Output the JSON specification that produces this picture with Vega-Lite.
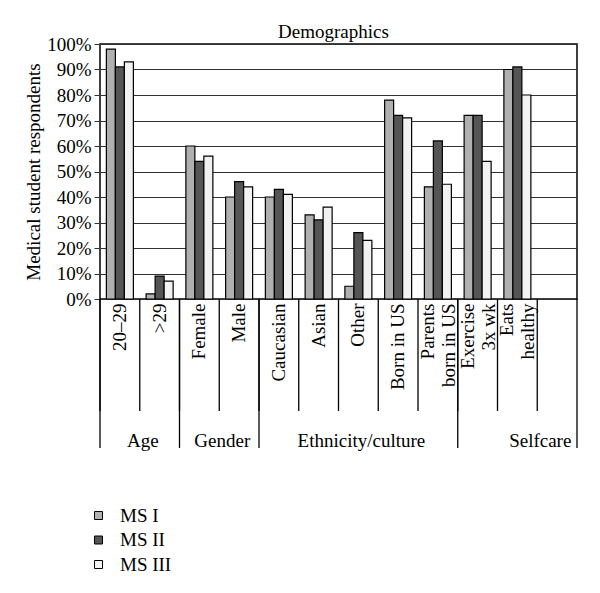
{
  "$schema": "https://vega.github.io/schema/vega-lite/v6.json",
  "autosize": {"type": "none"},
  "padding": {"left": 100, "top": 44, "right": 23, "bottom": 294},
  "width": 477,
  "height": 255,
  "title": {"text": "Demographics", "fontSize": 19, "fontWeight": "normal", "color": "black", "anchor": "middle", "offset": -7, "dx": -5},
  "config": {
    "font": "Liberation Serif",
    "view": {"stroke": "black", "strokeWidth": 1.5},
    "axisY": {
      "tickCount": 10, "labelOverlap": false,
      "format": ".0%", "grid": true, "gridColor": "#333333", "gridWidth": 1,
      "tickSize": 6, "tickColor": "#333333", "domain": false,
      "labelFontSize": 19, "labelColor": "black", "labelPadding": 3,
      "titleFontSize": 19, "titleFontWeight": "normal",
      "titleColor": "black", "titleX": -67, "titleY": 127.5, "titleAngle": -90,
      "titleAlign": "center", "titleBaseline": "middle"
    }
  },
  "datasets": {
    "bars": [
      {"cat": "20–29", "series": "MS I", "value": 0.98},
      {"cat": "20–29", "series": "MS II", "value": 0.91},
      {"cat": "20–29", "series": "MS III", "value": 0.93},
      {"cat": ">29", "series": "MS I", "value": 0.02},
      {"cat": ">29", "series": "MS II", "value": 0.09},
      {"cat": ">29", "series": "MS III", "value": 0.07},
      {"cat": "Female", "series": "MS I", "value": 0.60},
      {"cat": "Female", "series": "MS II", "value": 0.54},
      {"cat": "Female", "series": "MS III", "value": 0.56},
      {"cat": "Male", "series": "MS I", "value": 0.40},
      {"cat": "Male", "series": "MS II", "value": 0.46},
      {"cat": "Male", "series": "MS III", "value": 0.44},
      {"cat": "Caucasian", "series": "MS I", "value": 0.40},
      {"cat": "Caucasian", "series": "MS II", "value": 0.43},
      {"cat": "Caucasian", "series": "MS III", "value": 0.41},
      {"cat": "Asian", "series": "MS I", "value": 0.33},
      {"cat": "Asian", "series": "MS II", "value": 0.31},
      {"cat": "Asian", "series": "MS III", "value": 0.36},
      {"cat": "Other", "series": "MS I", "value": 0.05},
      {"cat": "Other", "series": "MS II", "value": 0.26},
      {"cat": "Other", "series": "MS III", "value": 0.23},
      {"cat": "Born in US", "series": "MS I", "value": 0.78},
      {"cat": "Born in US", "series": "MS II", "value": 0.72},
      {"cat": "Born in US", "series": "MS III", "value": 0.71},
      {"cat": "Parents|born in US", "series": "MS I", "value": 0.44},
      {"cat": "Parents|born in US", "series": "MS II", "value": 0.62},
      {"cat": "Parents|born in US", "series": "MS III", "value": 0.45},
      {"cat": "Exercise|3x wk", "series": "MS I", "value": 0.72},
      {"cat": "Exercise|3x wk", "series": "MS II", "value": 0.72},
      {"cat": "Exercise|3x wk", "series": "MS III", "value": 0.54},
      {"cat": "Eats|healthy", "series": "MS I", "value": 0.90},
      {"cat": "Eats|healthy", "series": "MS II", "value": 0.91},
      {"cat": "Eats|healthy", "series": "MS III", "value": 0.80}
    ],
    "cats": [
      {"cat": "20–29", "group": "Age", "first": true},
      {"cat": ">29", "group": "Age", "first": false},
      {"cat": "Female", "group": "Gender", "first": true},
      {"cat": "Male", "group": "Gender", "first": false},
      {"cat": "Caucasian", "group": "Ethnicity/culture", "first": true},
      {"cat": "Asian", "group": "Ethnicity/culture", "first": false},
      {"cat": "Other", "group": "Ethnicity/culture", "first": false},
      {"cat": "Born in US", "group": "Ethnicity/culture", "first": false},
      {"cat": "Parents|born in US", "group": "Ethnicity/culture", "first": false},
      {"cat": "Exercise|3x wk", "group": "Selfcare", "first": true},
      {"cat": "Eats|healthy", "group": "Selfcare", "first": false},
      {"cat": " ", "group": "Selfcare", "first": false}
    ],
    "groups": [
      {"group": "Age", "anchor": ">29", "mid": "edge"},
      {"group": "Gender", "anchor": "Male", "mid": "edge"},
      {"group": "Ethnicity/culture", "anchor": "Other", "mid": "center"},
      {"group": "Selfcare", "anchor": " ", "mid": "edge"}
    ]
  },
  "layer": [
    {
      "data": {"name": "bars"},
      "mark": {"type": "bar", "stroke": "black", "strokeWidth": 1.2},
      "encoding": {
        "x": {
          "field": "cat", "type": "nominal",
          "scale": {
            "domain": ["20–29", ">29", "Female", "Male", "Caucasian", "Asian", "Other", "Born in US", "Parents|born in US", "Exercise|3x wk", "Eats|healthy", " "],
            "paddingInner": 0, "paddingOuter": 0
          },
          "axis": {
            "title": null, "ticks": false, "domain": false, "labelAngle": -90,
            "labelAlign": "right", "labelBaseline": "middle",
            "labelFontSize": 19, "labelColor": "black", "labelPadding": 4,
            "labelLineHeight": 21,
            "labelOffset": {"condition": {"test": "indexof(datum.value, '|') >= 0", "value": -10}, "value": 0},
            "labelExpr": "split(datum.label, '|')"
          }
        },
        "xOffset": {"field": "series", "type": "nominal", "scale": {"paddingInner": 0, "paddingOuter": 0.708}},
        "y": {
          "field": "value", "type": "quantitative",
          "scale": {"domain": [0, 1], "nice": false, "zero": true},
          "axis": {"title": "Medical student respondents", "tickCount": 10}
        },
        "color": {
          "field": "series", "type": "nominal",
          "scale": {"domain": ["MS I", "MS II", "MS III"], "range": ["#b0b0b0", "#555555", "#f2f2f2"]},
          "legend": {
            "orient": "none", "legendX": -11, "legendY": 462, "title": null,
            "symbolType": "square", "symbolSize": 64, "symbolStrokeColor": "black",
            "symbolStrokeWidth": 1, "symbolOpacity": 1,
            "labelFontSize": 19, "labelColor": "black", "labelOffset": 12, "rowPadding": 4.5, "padding": 0
          }
        }
      }
    },
    {
      "data": {"name": "cats"},
      "mark": {"type": "rule", "color": "black", "strokeWidth": 1.3},
      "encoding": {
        "x": {"field": "cat", "type": "nominal", "bandPosition": 0},
        "y": {"datum": 0, "axis": {"title": "Medical student respondents", "tickCount": 10}},
        "y2": {"datum": -0.439}
      }
    },
    {
      "data": {"name": "cats"},
      "transform": [{"filter": "datum.first"}],
      "mark": {"type": "rule", "color": "black", "strokeWidth": 1.3},
      "encoding": {
        "x": {"field": "cat", "type": "nominal", "bandPosition": 0},
        "y": {"datum": 0, "axis": {"title": "Medical student respondents", "tickCount": 10}},
        "y2": {"datum": -0.584}
      }
    },
    {
      "data": {"name": "cats"},
      "transform": [{"filter": "datum.cat == ' '"}],
      "mark": {"type": "rule", "color": "black", "strokeWidth": 1.3},
      "encoding": {
        "x": {"field": "cat", "type": "nominal", "bandPosition": 1},
        "y": {"datum": 0, "axis": {"title": "Medical student respondents", "tickCount": 10}},
        "y2": {"datum": -0.584}
      }
    },
    {
      "data": {"name": "groups"},
      "transform": [{"filter": "datum.mid == 'edge'"}],
      "mark": {"type": "text", "fontSize": 19, "color": "black", "baseline": "alphabetic", "dx": 3},
      "encoding": {
        "x": {"field": "anchor", "type": "nominal", "bandPosition": 0},
        "y": {"datum": -0.58, "axis": {"title": "Medical student respondents", "tickCount": 10}},
        "text": {"field": "group"}
      }
    },
    {
      "data": {"name": "groups"},
      "transform": [{"filter": "datum.mid == 'center'"}],
      "mark": {"type": "text", "fontSize": 19, "color": "black", "baseline": "alphabetic", "dx": 3},
      "encoding": {
        "x": {"field": "anchor", "type": "nominal", "bandPosition": 0.5},
        "y": {"datum": -0.58, "axis": {"title": "Medical student respondents", "tickCount": 10}},
        "text": {"field": "group"}
      }
    }
  ]
}
